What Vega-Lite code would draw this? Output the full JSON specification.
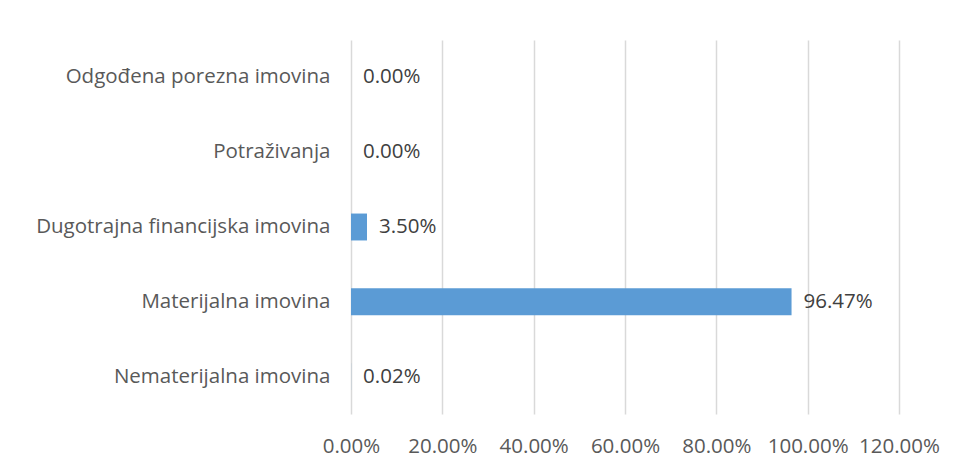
{
  "$schema": "https://vega.github.io/schema/vega-lite/v6.json",
  "autosize": {"type": "none"},
  "width": 548,
  "height": 374,
  "padding": {"left": 351, "top": 40, "right": 59, "bottom": 55},
  "background": "white",
  "data": {
    "values": [
      {"kategorija": "Odgođena porezna imovina", "udio": 0.0},
      {"kategorija": "Potraživanja", "udio": 0.0},
      {"kategorija": "Dugotrajna financijska imovina", "udio": 0.035},
      {"kategorija": "Materijalna imovina", "udio": 0.9647},
      {"kategorija": "Nematerijalna imovina", "udio": 0.0002}
    ]
  },
  "encoding": {
    "y": {
      "field": "kategorija",
      "type": "nominal",
      "sort": null,
      "scale": {"paddingInner": 0.64, "paddingOuter": 0.32},
      "axis": {
        "title": null,
        "domain": false,
        "ticks": false,
        "grid": false,
        "labelPadding": 21,
        "labelFont": "Open Sans",
        "labelFontSize": 20.5,
        "labelColor": "#595959",
        "labelLimit": 400
      }
    },
    "x": {
      "field": "udio",
      "type": "quantitative",
      "scale": {"domain": [0, 1.2], "nice": false},
      "axis": {
        "title": null,
        "format": ".2%",
        "values": [0, 0.2, 0.4, 0.6, 0.8, 1.0, 1.2],
        "domain": false,
        "ticks": false,
        "grid": true,
        "gridColor": "#D9D9D9",
        "gridWidth": 1.5,
        "labelPadding": 22,
        "labelFlush": false,
        "labelOverlap": false,
        "labelFont": "Open Sans",
        "labelFontSize": 20.5,
        "labelColor": "#595959"
      }
    }
  },
  "layer": [
    {"mark": {"type": "bar", "color": "#5B9BD5"}},
    {
      "mark": {"type": "text", "align": "left", "dx": 12, "font": "Open Sans", "fontSize": 20.5, "color": "#404040"},
      "encoding": {"text": {"field": "udio", "type": "quantitative", "format": ".2%"}}
    }
  ],
  "config": {"view": {"stroke": null}}
}
